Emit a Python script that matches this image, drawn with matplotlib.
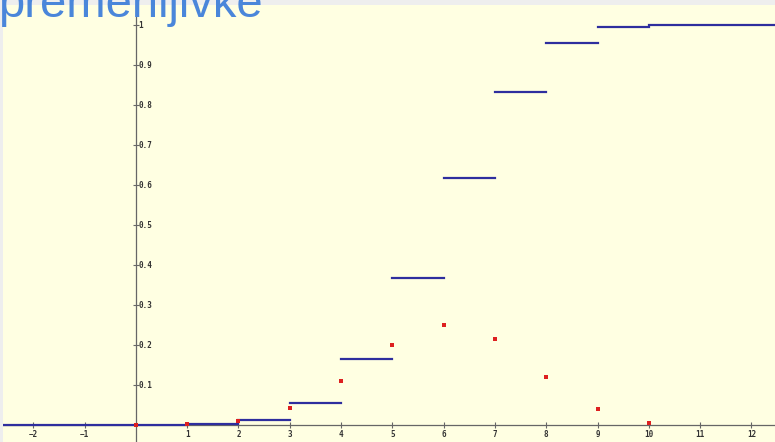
import matplotlib.pyplot as plt

# values
k_values = [0, 1, 2, 3, 4, 5, 6, 7, 8, 9, 10]
pmf = [0.0001, 0.0016, 0.011, 0.042, 0.111, 0.201, 0.251, 0.215, 0.121, 0.040, 0.006]
cdf = [0.0001, 0.0017, 0.012, 0.055, 0.166, 0.367, 0.618, 0.833, 0.954, 0.994, 1.0]
x_ticks = [-2, -1, 1, 2, 3, 4, 5, 6, 7, 8, 9, 10, 11, 12]
y_ticks = [0.1, 0.2, 0.3, 0.4, 0.5, 0.6, 0.7, 0.8, 0.9, 1]
y_tick_labels = ["0.1", "0.2", "0.3", "0.4", "0.5", "0.6", "0.7", "0.8", "0.9", "1"]
title_text = "premenljivke"

x_min, x_max = -2.59, 12.46
y_min, y_max = -0.0425, 1.05

fig = plt.figure(figsize=(7.75, 4.42), dpi=100, facecolor="#eeeeee")
ax = fig.add_axes([3 / 775, 0, 1 - 3 / 775, 1 - 5 / 442])
ax.set_facecolor("#ffffe2")
ax.set_xlim(x_min, x_max)
ax.set_ylim(y_min, y_max)
for s in ax.spines.values():
    s.set_visible(False)
ax.set_xticks([])
ax.set_yticks([])

axis_col = "#666666"
ax.axhline(0, color=axis_col, lw=0.9, zorder=1)
ax.axvline(0, color=axis_col, lw=0.9, zorder=1)

mono = dict(family="DejaVu Sans Mono", fontweight="bold", fontsize=5.5, color="#333333")

# x ticks and labels
ax.plot(x_ticks, [0] * len(x_ticks), ls="none", marker="|", ms=4, mew=0.8, color=axis_col, zorder=1)
for xv in x_ticks:
    ax.annotate(str(xv).replace("-", "\u2212"), (xv, 0), xytext=(0, -3.5), textcoords="offset points",
                ha="center", va="top", **mono)

# y ticks and labels
ax.plot([0] * len(y_ticks), y_ticks, ls="none", marker="_", ms=4, mew=0.8, color=axis_col, zorder=1)
for yv, lab in zip(y_ticks, y_tick_labels):
    ax.annotate(lab, (0, yv), xytext=(2, 0), textcoords="offset points",
                ha="left", va="center", **mono)

# distribution function steps
blue = "#2e2e9e"
ax.plot([x_min, 0], [0, 0], color=blue, lw=1.6, zorder=3)
for i, k in enumerate(k_values):
    right = k + 1 if i < len(k_values) - 1 else x_max
    ax.plot([k, right], [cdf[i], cdf[i]], color=blue, lw=1.6, zorder=3)

# probabilities
ax.plot(k_values, pmf, ls="none", marker="s", ms=2.2, mew=0, color="#dd2020", zorder=4)

fig.text(-0.003, 1 - 17 / 442, title_text, fontsize=34, color="#4a86da",
         family="Liberation Sans", va="baseline", ha="left")

fig.savefig("out.png", dpi=100, facecolor=fig.get_facecolor())
